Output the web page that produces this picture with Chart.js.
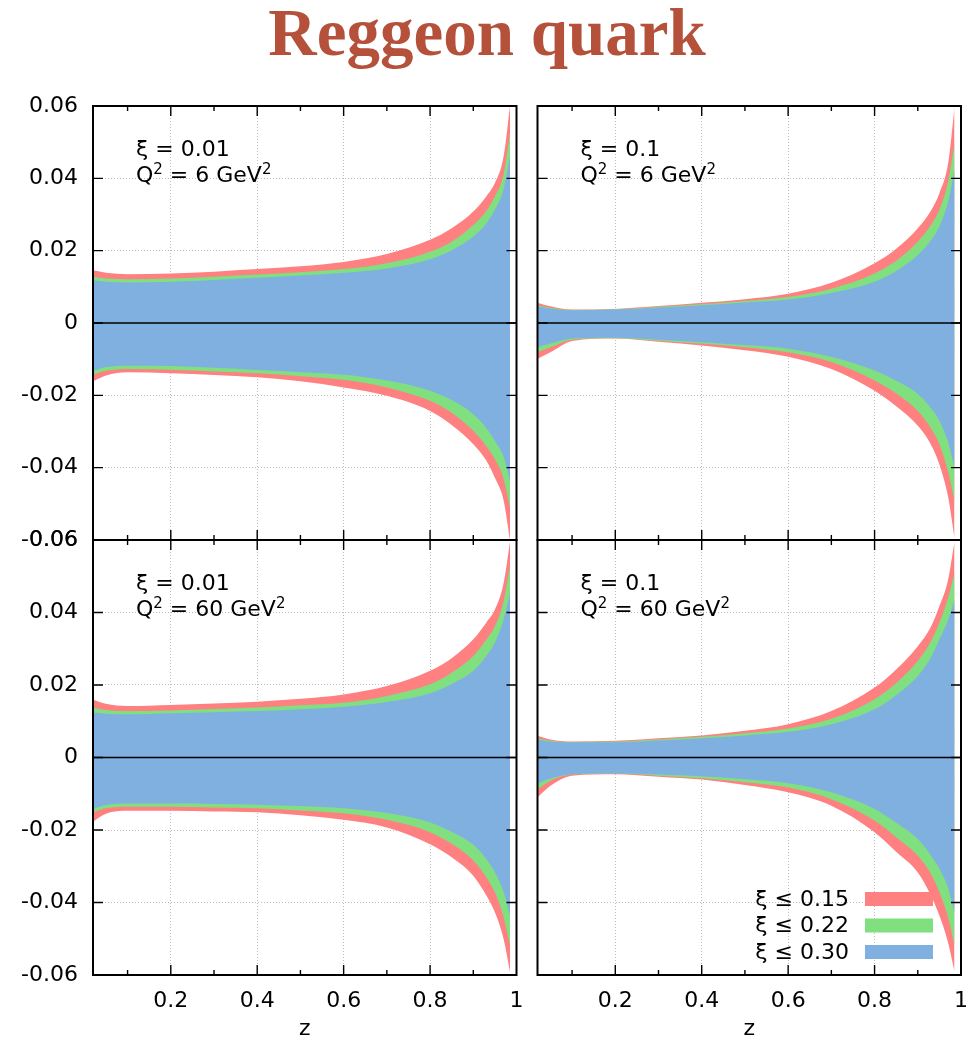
<!DOCTYPE html>
<html>
<head>
<meta charset="utf-8">
<script src="https://cdn.jsdelivr.net/npm/chart.js@4.4.0/dist/chart.umd.min.js"></script>
<style>
  body { margin: 0; background: #fff; }
  #wrap { position: relative; width: 974px; height: 1042px; overflow: hidden; }
  #title { position: absolute; left: 0; top: -1px; width: 974px; text-align: center;
           font: bold 67px "Liberation Serif", serif; line-height: 67px; color: #b5503a; }
  canvas { position: absolute; }
</style>
</head>
<body>
<div id="wrap">
  <div id="title">Reggeon quark</div>
  <canvas id="tl" width="530" height="470" style="left:0;top:90px"></canvas>
  <canvas id="tr" width="444" height="470" style="left:530px;top:90px"></canvas>
  <canvas id="bl" width="530" height="522" style="left:0;top:520px"></canvas>
  <canvas id="br" width="444" height="522" style="left:530px;top:520px"></canvas>
</div>
<script>
// reggeon quark bands - four panels, xi / Q2 grid

const zValues = [0.02, 0.05, 0.1, 0.2, 0.3, 0.4, 0.5, 0.6, 0.7, 0.8, 0.85, 0.9, 0.93, 0.95, 0.97, 0.985];
const xTickValues = [0.2, 0.4, 0.6, 0.8, 1];
const xMinorTicks = [0.1, 0.3, 0.5, 0.7, 0.9];
const yTickValues = [-0.06, -0.04, -0.02, 0, 0.02, 0.04, 0.06];
const yTickLabels = ["-0.06", "-0.04", "-0.02", "0", "0.02", "0.04", "0.06"];
const bandLabels = ["ξ ≤ 0.15", "ξ ≤ 0.22", "ξ ≤ 0.30"];
const xiLabels = ["ξ = 0.01", "ξ = 0.1", "ξ = 0.01", "ξ = 0.1"];
const q2Values = ["6", "6", "60", "60"];

// xi = 0.01, Q2 = 6
const tlRedUp    = [0.0146, 0.0139, 0.0135, 0.0137, 0.0142, 0.0149, 0.0157, 0.0169, 0.0191, 0.0230, 0.0262, 0.0308, 0.0350, 0.0387, 0.0460, 0.0600];
const tlGreenUp  = [0.0128, 0.0123, 0.0121, 0.0123, 0.0128, 0.0134, 0.0140, 0.0149, 0.0165, 0.0197, 0.0225, 0.0271, 0.0310, 0.0350, 0.0410, 0.0526];
const tlBlueUp   = [0.0118, 0.0114, 0.0112, 0.0114, 0.0119, 0.0125, 0.0131, 0.0139, 0.0151, 0.0176, 0.0201, 0.0239, 0.0275, 0.0313, 0.0370, 0.0460];
const tlBlueLow  = [-0.0133, -0.0122, -0.0118, -0.0119, -0.0124, -0.0130, -0.0136, -0.0143, -0.0159, -0.0187, -0.0213, -0.0252, -0.0290, -0.0326, -0.0370, -0.0437];
const tlGreenLow = [-0.0143, -0.0132, -0.0127, -0.0129, -0.0134, -0.0139, -0.0147, -0.0157, -0.0178, -0.0215, -0.0248, -0.0298, -0.0340, -0.0377, -0.0430, -0.0510];
const tlRedLow   = [-0.0161, -0.0145, -0.0136, -0.0139, -0.0144, -0.0150, -0.0161, -0.0178, -0.0201, -0.0243, -0.0282, -0.0335, -0.0380, -0.0428, -0.0490, -0.0600];

// xi = 0.1, Q2 = 6
const trRedUp    = [0.0056, 0.0046, 0.0037, 0.0039, 0.0047, 0.0056, 0.0066, 0.0081, 0.0111, 0.0165, 0.0205, 0.0262, 0.0310, 0.0359, 0.0440, 0.0595];
const trGreenUp  = [0.0049, 0.0042, 0.0036, 0.0038, 0.0045, 0.0052, 0.0061, 0.0072, 0.0095, 0.0137, 0.0172, 0.0225, 0.0270, 0.0313, 0.0390, 0.0498];
const trBlueUp   = [0.0046, 0.0040, 0.0035, 0.0037, 0.0043, 0.0049, 0.0057, 0.0065, 0.0083, 0.0114, 0.0144, 0.0188, 0.0228, 0.0267, 0.0335, 0.0424];
const trBlueLow  = [-0.0067, -0.0057, -0.0043, -0.0041, -0.0046, -0.0053, -0.0061, -0.0071, -0.0094, -0.0131, -0.0160, -0.0196, -0.0235, -0.0270, -0.0330, -0.0400];
const trGreenLow = [-0.0081, -0.0067, -0.0046, -0.0042, -0.0049, -0.0057, -0.0067, -0.0081, -0.0108, -0.0159, -0.0195, -0.0243, -0.0290, -0.0335, -0.0410, -0.0493];
const trRedLow   = [-0.0099, -0.0081, -0.0050, -0.0043, -0.0052, -0.0062, -0.0075, -0.0093, -0.0127, -0.0187, -0.0230, -0.0284, -0.0335, -0.0391, -0.0480, -0.0594];

// xi = 0.01, Q2 = 60
const blRedUp    = [0.0159, 0.0148, 0.0142, 0.0145, 0.0149, 0.0154, 0.0162, 0.0174, 0.0197, 0.0239, 0.0274, 0.0326, 0.0372, 0.0408, 0.0480, 0.0596];
const blGreenUp  = [0.0138, 0.0131, 0.0128, 0.0130, 0.0134, 0.0138, 0.0144, 0.0151, 0.0170, 0.0202, 0.0234, 0.0280, 0.0325, 0.0362, 0.0430, 0.0528];
const blBlueUp   = [0.0124, 0.0121, 0.0119, 0.0122, 0.0125, 0.0128, 0.0133, 0.0140, 0.0153, 0.0177, 0.0203, 0.0239, 0.0280, 0.0317, 0.0380, 0.0454];
const blBlueLow  = [-0.0142, -0.0131, -0.0127, -0.0127, -0.0128, -0.0130, -0.0134, -0.0140, -0.0153, -0.0179, -0.0205, -0.0241, -0.0280, -0.0317, -0.0370, -0.0436];
const blGreenLow = [-0.0151, -0.0140, -0.0136, -0.0136, -0.0138, -0.0140, -0.0146, -0.0154, -0.0172, -0.0206, -0.0238, -0.0284, -0.0330, -0.0372, -0.0440, -0.0518];
const blRedLow   = [-0.0177, -0.0155, -0.0147, -0.0147, -0.0149, -0.0151, -0.0159, -0.0172, -0.0193, -0.0239, -0.0275, -0.0326, -0.0380, -0.0427, -0.0500, -0.0590];

// xi = 0.1, Q2 = 60
const brRedUp    = [0.0060, 0.0050, 0.0044, 0.0046, 0.0053, 0.0061, 0.0074, 0.0092, 0.0128, 0.0193, 0.0243, 0.0307, 0.0360, 0.0417, 0.0490, 0.0596];
const brGreenUp  = [0.0053, 0.0046, 0.0043, 0.0044, 0.0050, 0.0057, 0.0067, 0.0080, 0.0107, 0.0161, 0.0205, 0.0266, 0.0320, 0.0372, 0.0440, 0.0509];
const brBlueUp   = [0.0050, 0.0044, 0.0042, 0.0042, 0.0047, 0.0053, 0.0061, 0.0071, 0.0092, 0.0133, 0.0172, 0.0225, 0.0275, 0.0326, 0.0380, 0.0436];
const brBlueLow  = [-0.0073, -0.0058, -0.0046, -0.0044, -0.0047, -0.0052, -0.0060, -0.0071, -0.0096, -0.0142, -0.0180, -0.0225, -0.0270, -0.0307, -0.0360, -0.0427];
const brGreenLow = [-0.0087, -0.0064, -0.0047, -0.0044, -0.0050, -0.0057, -0.0068, -0.0083, -0.0115, -0.0174, -0.0220, -0.0271, -0.0320, -0.0372, -0.0440, -0.0518];
const brRedLow   = [-0.0110, -0.0078, -0.0050, -0.0046, -0.0053, -0.0061, -0.0076, -0.0096, -0.0133, -0.0206, -0.0260, -0.0317, -0.0380, -0.0436, -0.0510, -0.0590];

const RED = "#ff8080", GREEN = "#80e080", BLUE = "#80b0e0";

function bandSets(blueUp, blueLow, greenUp, greenLow, redUp, redLow) {
  const mk = (vals, color, fill) => ({
    data: vals.map((v, i) => ({ x: zValues[i], y: v })),
    backgroundColor: color,
    borderWidth: 0,
    pointRadius: 0,
    fill,
    cubicInterpolationMode: "monotone"
  });
  // dataset 0 is painted last, so blue sits on top of green on top of red
  return [
    mk(blueUp, BLUE, "+1"), mk(blueLow, BLUE, false),
    mk(greenUp, GREEN, "+1"), mk(greenLow, GREEN, false),
    mk(redUp, RED, "+1"), mk(redLow, RED, false)
  ];
}

// text with raised "2" pieces: [text, isSuper]
function drawRich(ctx, parts, x, y) {
  parts.forEach(([t, sup]) => {
    ctx.font = sup ? "15px 'DejaVu Sans'" : "22px 'DejaVu Sans'";
    ctx.fillText(t, x, sup ? y - 8 : y);
    x += ctx.measureText(t).width;
  });
}

// frame, inward ticks, zero line, panel text, legend
const panelDecor = {
  id: "panelDecor",
  afterDatasetsDraw(chart, args, opts) {
    const { ctx, chartArea: a, scales: { x, y } } = chart;
    ctx.save();
    ctx.strokeStyle = "#000";

    const y0 = y.getPixelForValue(0);
    ctx.lineWidth = 1.4;
    ctx.beginPath(); ctx.moveTo(a.left, y0); ctx.lineTo(a.right, y0); ctx.stroke();

    ctx.beginPath();
    xTickValues.concat(xMinorTicks).forEach(v => {
      if (v >= 1) return;
      const px = x.getPixelForValue(v);
      const len = xMinorTicks.includes(v) ? 5 : 10;
      ctx.moveTo(px, a.bottom); ctx.lineTo(px, a.bottom - len);
      ctx.moveTo(px, a.top); ctx.lineTo(px, a.top + len);
    });
    yTickValues.forEach(v => {
      if (Math.abs(v) >= 0.06) return;
      const py = y.getPixelForValue(v);
      ctx.moveTo(a.left, py); ctx.lineTo(a.left + 10, py);
      ctx.moveTo(a.right, py); ctx.lineTo(a.right - 10, py);
    });
    ctx.stroke();

    ctx.lineWidth = 2;
    ctx.strokeRect(a.left, a.top, a.right - a.left, a.bottom - a.top);

    ctx.fillStyle = "#000";
    ctx.font = "22px 'DejaVu Sans'";
    ctx.textAlign = "left";
    ctx.textBaseline = "alphabetic";
    ctx.fillText(opts.xi, a.left + 43, a.top + 50);
    drawRich(ctx, [["Q", 0], ["2", 1], [" = " + opts.q2 + " GeV", 0], ["2", 1]], a.left + 43, a.top + 75.5);

    if (opts.legend) {
      const colors = [RED, GREEN, BLUE];
      ctx.font = "22px 'DejaVu Sans'";
      bandLabels.forEach((t, i) => {
        const cy = a.bottom - 76 + i * 26.5;
        ctx.fillStyle = colors[i];
        ctx.fillRect(a.right - 96, cy - 7, 68, 14);
        ctx.fillStyle = "#000";
        ctx.textAlign = "right";
        ctx.textBaseline = "middle";
        ctx.fillText(t, a.right - 112, cy + 1);
      });
    }
    ctx.restore();
  }
};

function makePanel(id, datasets, p) {
  const canvas = document.getElementById(id);
  return new Chart(canvas.getContext("2d"), {
    type: "line",
    data: { datasets },
    options: {
      responsive: false,
      animation: false,
      devicePixelRatio: 1,
      layout: { padding: { top: p.top, right: p.right, left: 0, bottom: 0 } },
      plugins: {
        legend: { display: false },
        tooltip: { enabled: false },
        panelDecor: { xi: p.xi, q2: p.q2, legend: p.legend }
      },
      scales: {
        x: {
          type: "linear",
          min: 0.02,
          max: 1,
          afterBuildTicks: s => { s.ticks = xTickValues.map(v => ({ value: v })); },
          afterFit: s => { s.height = p.bottom; },
          // padding 0 + tall line box keeps the labels low without eating plot width
          ticks: {
            display: p.showX, padding: 0, color: "#000",
            font: { family: "'DejaVu Sans'", size: 22, lineHeight: 2.38 },
            maxRotation: 0, autoSkip: false, callback: v => String(v)
          },
          grid: { color: "#bcbcbc", lineWidth: 1, drawTicks: false },
          border: { display: false, dash: [1, 2] },
          title: { display: p.showX, text: "z", color: "#000",
                   font: { family: "'DejaVu Sans'", size: 22 }, padding: 0 }
        },
        y: {
          type: "linear",
          min: -0.06,
          max: 0.06,
          afterBuildTicks: s => { s.ticks = yTickValues.map(v => ({ value: v })); },
          afterFit: s => { s.width = p.left; },
          // flat line box so the end labels do not push the plot inward
          ticks: {
            display: p.showY, padding: 15, color: "#000",
            font: { family: "'DejaVu Sans'", size: 22, lineHeight: 0.02 },
            callback: v => yTickLabels[yTickValues.indexOf(v)]
          },
          grid: { color: "#bcbcbc", lineWidth: 1, drawTicks: false },
          border: { display: false, dash: [1, 2] }
        }
      }
    },
    plugins: [panelDecor]
  });
}

document.addEventListener("DOMContentLoaded", () => {
  makePanel("tl", bandSets(tlBlueUp, tlBlueLow, tlGreenUp, tlGreenLow, tlRedUp, tlRedLow),
    { xi: xiLabels[0], q2: q2Values[0], showX: false, showY: true, left: 93, top: 16, right: 13.5, bottom: 20 });
  makePanel("tr", bandSets(trBlueUp, trBlueLow, trGreenUp, trGreenLow, trRedUp, trRedLow),
    { xi: xiLabels[1], q2: q2Values[1], showX: false, showY: false, left: 7.5, top: 16, right: 13, bottom: 20 });
  makePanel("bl", bandSets(blBlueUp, blBlueLow, blGreenUp, blGreenLow, blRedUp, blRedLow),
    { xi: xiLabels[2], q2: q2Values[2], showX: true, showY: true, left: 93, top: 20, right: 13.5, bottom: 67 });
  makePanel("br", bandSets(brBlueUp, brBlueLow, brGreenUp, brGreenLow, brRedUp, brRedLow),
    { xi: xiLabels[3], q2: q2Values[3], showX: true, showY: false, left: 7.5, top: 20, right: 13, bottom: 67, legend: true });
});
</script>
</body>
</html>
